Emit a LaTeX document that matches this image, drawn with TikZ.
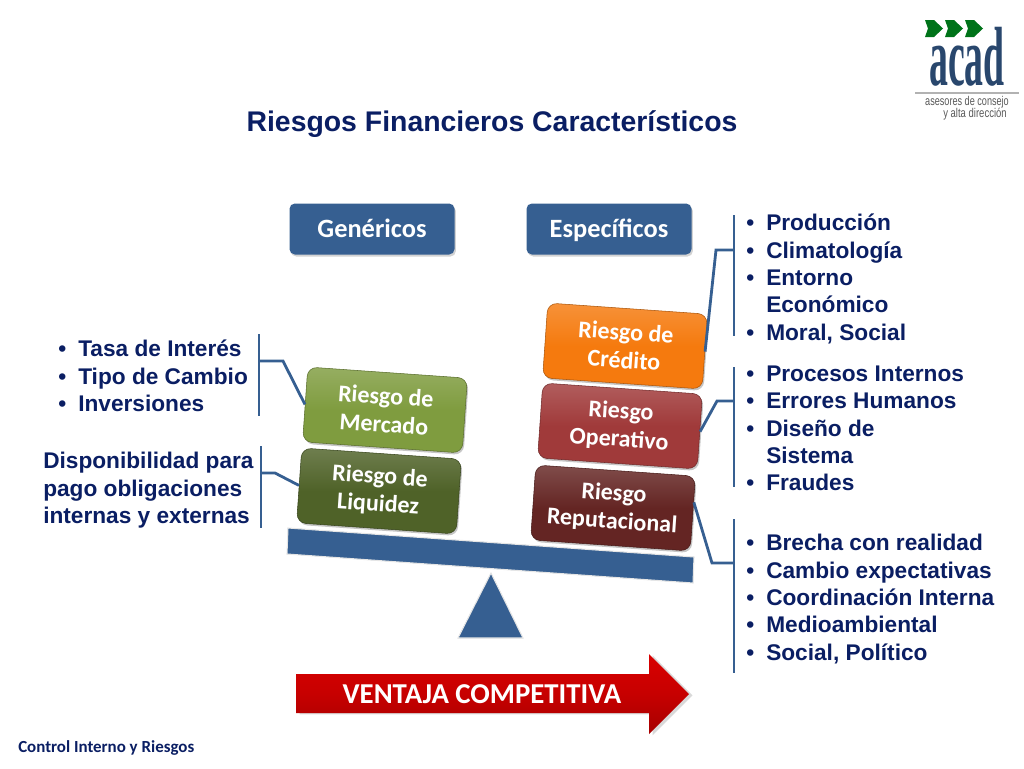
\documentclass[tikz,border=0pt]{standalone}
\usepackage{fontspec}
\setmainfont{Liberation Sans}
\newfontfamily\cuerpo{Carlito}
\newfontfamily\marcafont{Liberation Serif}
\usetikzlibrary{shadows}
\definecolor{azul}{HTML}{365F91}
\definecolor{marino}{HTML}{0A1E63}
\definecolor{verdeclaro}{HTML}{7F9C3F}
\definecolor{verdeoscuro}{HTML}{4F6228}
\definecolor{naranja}{HTML}{F57A0E}
\definecolor{rojizo}{HTML}{A03A3A}
\definecolor{granate}{HTML}{642523}
\newcommand{\vineta}{\makebox[15pt][l]{\textbullet}}
\tikzset{
	titulo/.style={font=\bfseries\fontsize{21.3}{25}\selectfont, text=marino},
	lista/.style={font=\bfseries\fontsize{17}{20.5}\selectfont, text=marino, align=left, anchor=north west, inner sep=0pt},
	caja/.style={rounded corners=7pt, minimum width=160*0.75pt, minimum height=75*0.75pt, align=center, inner sep=1pt, text=white,
		font=\cuerpo\bfseries\fontsize{18}{21}\selectfont, rotate=-4, draw=#1!70!black, top color=#1!82!white, bottom color=#1, middle color=#1,
		drop shadow={opacity=0.45, shadow xshift=1pt, shadow yshift=-1.5pt}},
	cabecera/.style={rounded corners=4pt, fill=azul, minimum width=165*0.75pt, minimum height=51*0.75pt, text=white,
		text height=15pt, text depth=3pt,
		font=\cuerpo\bfseries\fontsize{19.8}{23}\selectfont, drop shadow={opacity=0.35, shadow xshift=1pt, shadow yshift=-1.5pt}},
	llave/.style={draw=azul, line width=2.1pt},
	balanza/.style={fill=azul, draw=black!10, line width=0.8pt},
}
\begin{document}
\begin{tikzpicture}[x=0.75pt, y=-0.75pt]
	\useasboundingbox (0,0) rectangle (1024,768);
	\node[titulo] (titulo) at (492,124) {Riesgos Financieros Característicos};
	\foreach \x in {925,945,965} {
		\fill[green!50!black!90!blue] (\x,20) -- (\x+9,20) -- (\x+18,28.5) -- (\x+9,37) -- (\x,37) -- (\x+3,28.5) -- cycle;
	}
	\node[text=azul!75!black, font=\marcafont\bfseries\fontsize{63}{63}\selectfont, xscale=0.45, inner sep=0pt, anchor=base] (marca) at (967,85) {acad};
	\draw[black!30, thick] (915,93) -- (1019,93);
	\node[text=black!65, font=\fontsize{9.5}{11}\selectfont, xscale=0.72, inner sep=0pt] (lema) at (967,102) {asesores de consejo};
	\node[text=black!65, font=\fontsize{9.5}{11}\selectfont, xscale=0.75, inner sep=0pt] (lemados) at (975,114) {y alta dirección};

	\node[cabecera] (genericos) at (372,229) {Genéricos};
	\node[cabecera] (especificos) at (609,229) {Específicos};

	\node[caja=naranja] (credito) at (625,346) {Riesgo de\\Crédito};
	\node[caja=rojizo] (operativo) at (620,426) {Riesgo\\Operativo};
	\node[caja=granate] (reputacional) at (613,508) {Riesgo\\Reputacional};
	\node[caja=verdeclaro] (mercado) at (385,410) {Riesgo de\\Mercado};
	\node[caja=verdeoscuro] (liquidez) at (379,491) {Riesgo de\\Liquidez};

	\fill[balanza] (288,528) -- (694,557) -- (693,583) -- (287,554) -- cycle;
	\fill[balanza] (491,573) -- (523,638) -- (458,638) -- cycle;
	\shade[top color=red!85!black, bottom color=red!65!black, middle color=red!78!black, drop shadow={opacity=0.3, shadow yshift=-1pt}]
		(296,674) -- (649,674) -- (649,654) -- (689,694) -- (649,734) -- (649,713) -- (296,713) -- cycle;
	\node[text=white, font=\cuerpo\bfseries\fontsize{21.6}{25}\selectfont] (ventaja) at (482,694) {VENTAJA COMPETITIVA};
	\node[text=marino, font=\cuerpo\bfseries\fontsize{12.7}{15}\selectfont, anchor=west, inner sep=0pt] (pie) at (18,748) {Control Interno y Riesgos};

	\node[lista] (listacredito) at (746,214) {\vineta Producción\\\vineta Climatología\\\vineta Entorno\\\hspace*{15pt}Económico\\\vineta Moral, Social};
	\node[lista] (listaoperativo) at (746,365.5) {\vineta Procesos Internos\\\vineta Errores Humanos\\\vineta Diseño de\\\hspace*{15pt}Sistema\\\vineta Fraudes};
	\node[lista] (listareputacional) at (746,534) {\vineta Brecha con realidad\\\vineta Cambio expectativas\\\vineta Coordinación Interna\\\vineta Medioambiental\\\vineta Social, Político};
	\node[lista] (listamercado) at (58,340) {\vineta Tasa de Interés\\\vineta Tipo de Cambio\\\vineta Inversiones};
	\node[lista] (listaliquidez) at (43,452) {Disponibilidad para\\pago obligaciones\\internas y externas};

	\coordinate (barramercadoa) at (259,334);
	\coordinate (barramercadob) at (259,416);
	\coordinate (barraliquideza) at (261,446);
	\coordinate (barraliquidezb) at (261,528);
	\coordinate (barracreditoa) at (734,215);
	\coordinate (barracreditob) at (734,336);
	\coordinate (barraoperativoa) at (734,367);
	\coordinate (barraoperativob) at (734,487);
	\coordinate (barrareputacionala) at (734,519);
	\coordinate (barrareputacionalb) at (734,673);
	\coordinate (codomercado) at (283,361);
	\coordinate (codoliquidez) at (275,473);
	\coordinate (codocredito) at (716,250);
	\coordinate (codooperativo) at (717,401);
	\coordinate (codoreputacional) at (712,563);
	\foreach \nombre in {mercado,liquidez,credito,operativo,reputacional} {
		\draw[llave] (barra\nombre a) -- (barra\nombre b);
	}
	\draw[llave] (mercado.west) -- (codomercado) -- (codomercado -| barramercadoa);
	\draw[llave] (liquidez.west) -- (codoliquidez) -- (codoliquidez -| barraliquideza);
	\draw[llave] (credito.east) -- (codocredito) -- (codocredito -| barracreditoa);
	\draw[llave] (operativo.east) -- (codooperativo) -- (codooperativo -| barraoperativoa);
	\draw[llave] (reputacional.8) -- (codoreputacional) -- (codoreputacional -| barrareputacionala);
\end{tikzpicture}
\end{document}
